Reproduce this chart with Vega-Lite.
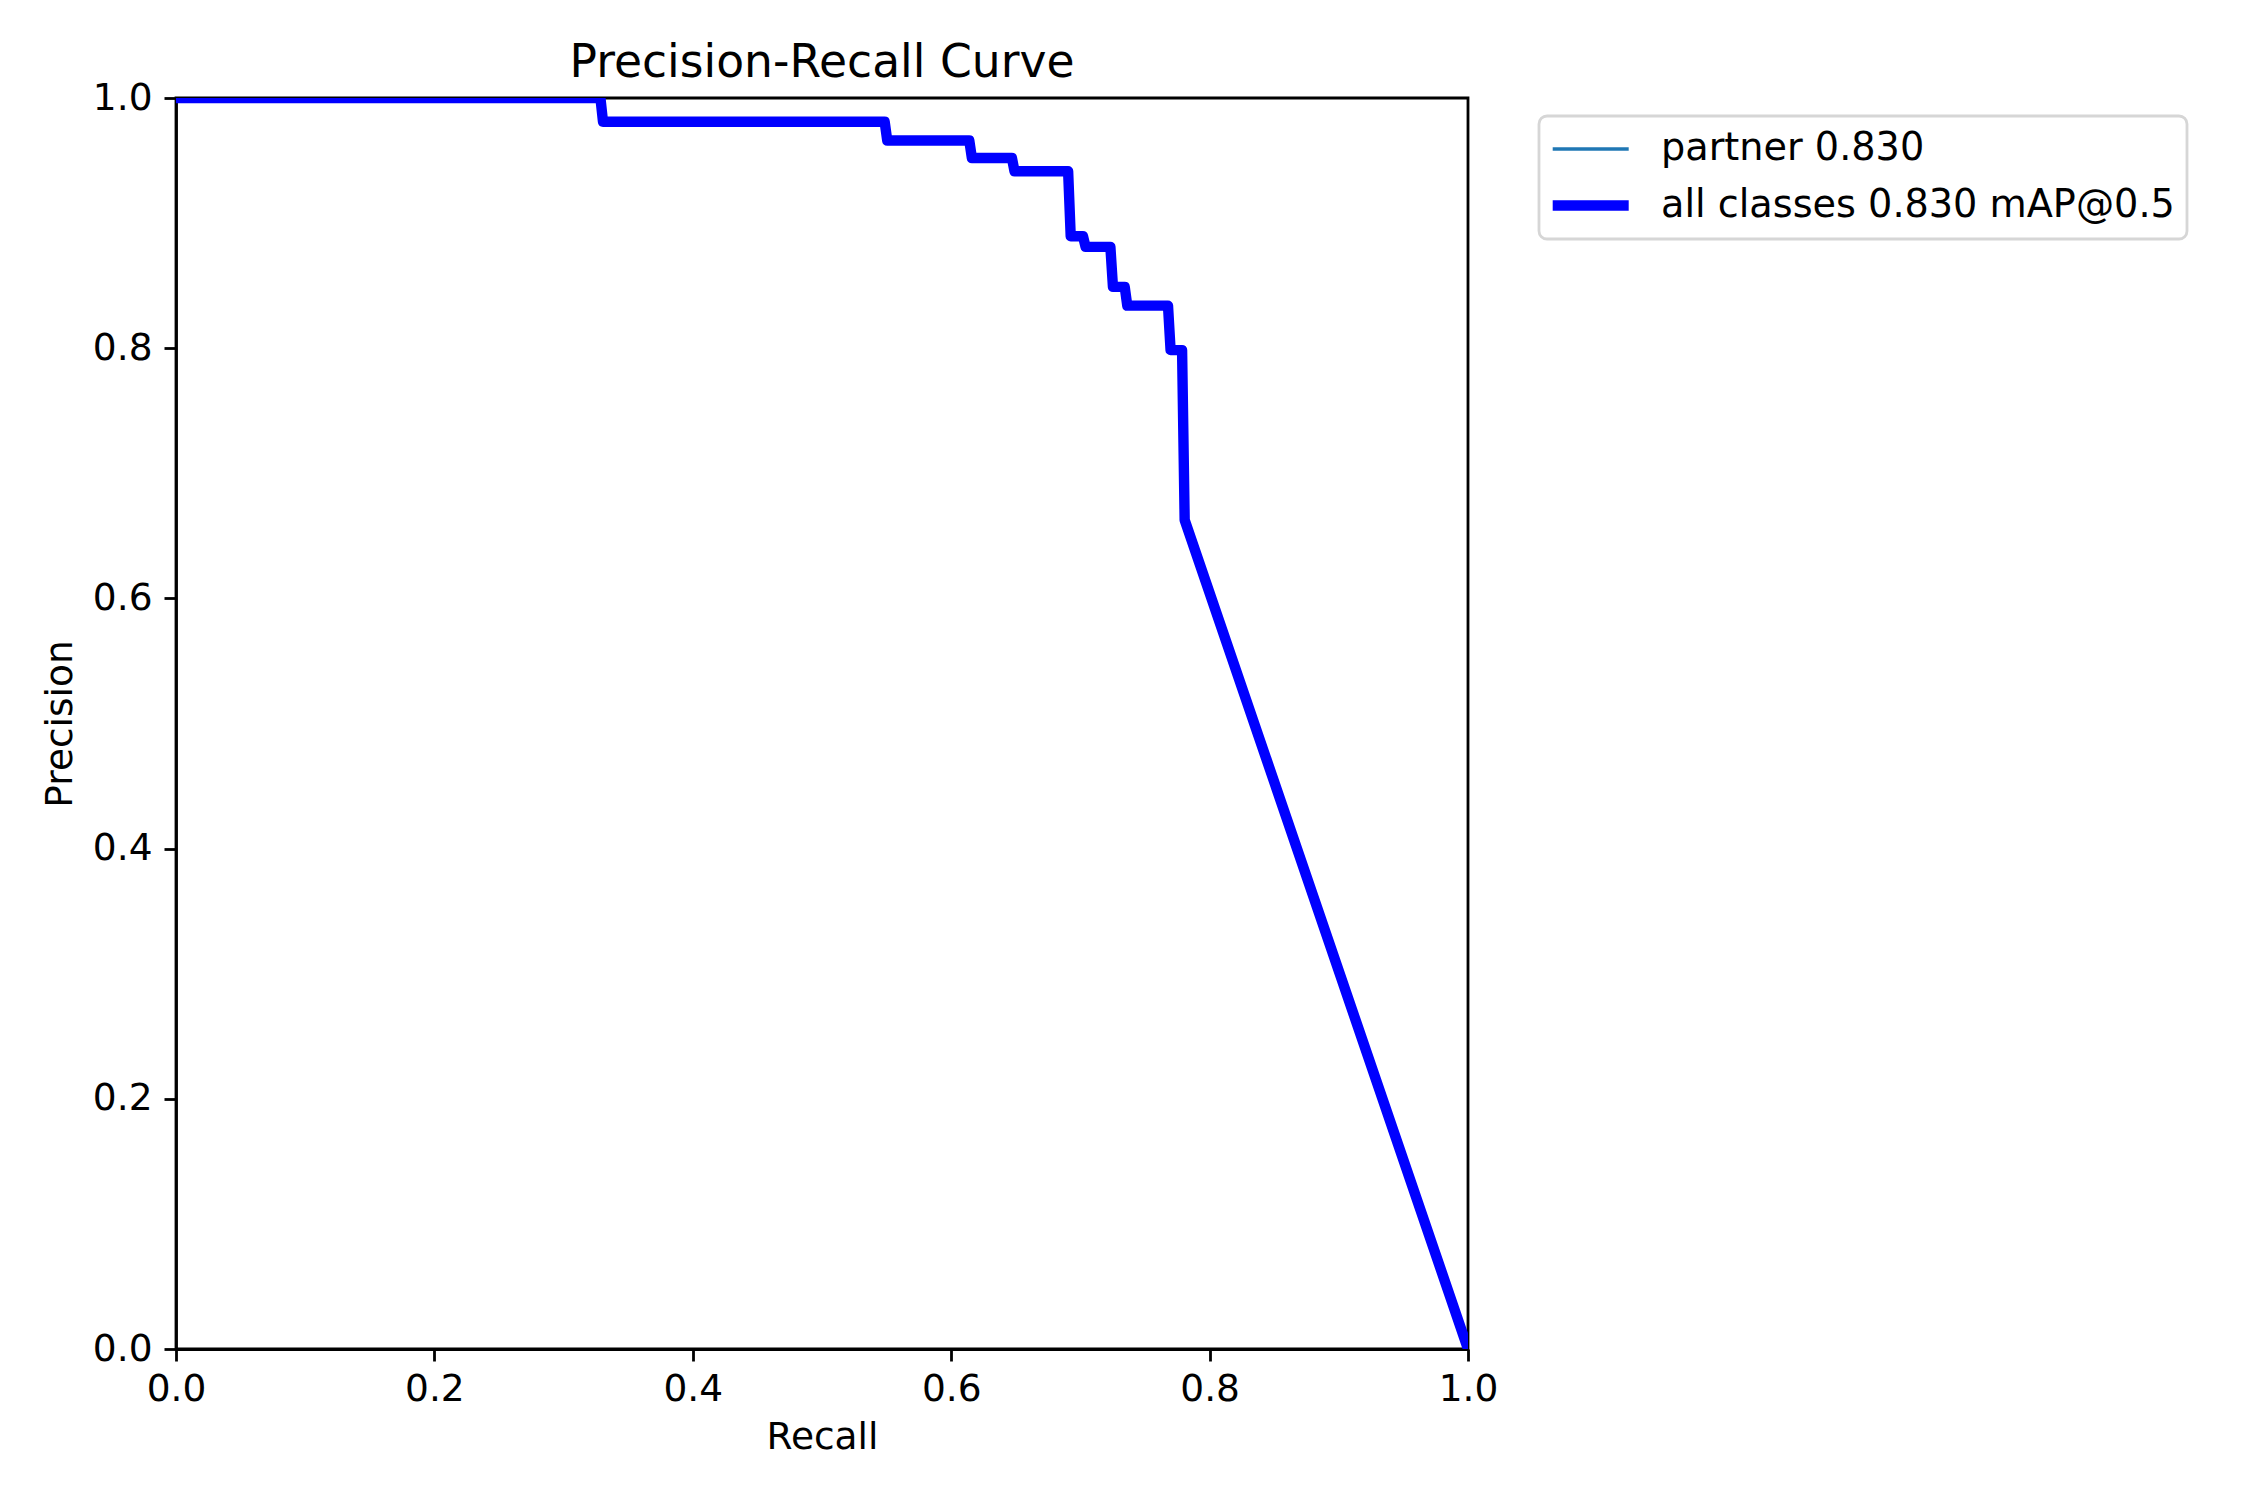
{
  "$schema": "https://vega.github.io/schema/vega-lite/v6.json",
  "width": 1292,
  "height": 1251,
  "autosize": {"type": "none"},
  "padding": {"left": 176, "top": 98, "right": 782, "bottom": 151},
  "background": "white",
  "title": {
    "text": "Precision-Recall Curve",
    "font": "DejaVu Sans",
    "fontSize": 45.6,
    "fontWeight": "normal",
    "color": "black",
    "anchor": "middle",
    "frame": "group",
    "baseline": "alphabetic",
    "offset": -44
  },
  "data": {
    "values": [
      {"recall": 0, "precision": 1, "series": "partner 0.830"},
      {"recall": 0.3285, "precision": 1, "series": "partner 0.830"},
      {"recall": 0.3305, "precision": 0.981, "series": "partner 0.830"},
      {"recall": 0.5485, "precision": 0.981, "series": "partner 0.830"},
      {"recall": 0.5505, "precision": 0.966, "series": "partner 0.830"},
      {"recall": 0.614, "precision": 0.966, "series": "partner 0.830"},
      {"recall": 0.616, "precision": 0.952, "series": "partner 0.830"},
      {"recall": 0.647, "precision": 0.952, "series": "partner 0.830"},
      {"recall": 0.649, "precision": 0.9415, "series": "partner 0.830"},
      {"recall": 0.6905, "precision": 0.9415, "series": "partner 0.830"},
      {"recall": 0.6925, "precision": 0.8895, "series": "partner 0.830"},
      {"recall": 0.702, "precision": 0.8895, "series": "partner 0.830"},
      {"recall": 0.704, "precision": 0.881, "series": "partner 0.830"},
      {"recall": 0.7232, "precision": 0.881, "series": "partner 0.830"},
      {"recall": 0.7252, "precision": 0.849, "series": "partner 0.830"},
      {"recall": 0.7343, "precision": 0.849, "series": "partner 0.830"},
      {"recall": 0.7363, "precision": 0.834, "series": "partner 0.830"},
      {"recall": 0.7678, "precision": 0.834, "series": "partner 0.830"},
      {"recall": 0.7698, "precision": 0.7985, "series": "partner 0.830"},
      {"recall": 0.7787, "precision": 0.7985, "series": "partner 0.830"},
      {"recall": 0.7807, "precision": 0.6627, "series": "partner 0.830"},
      {"recall": 1, "precision": 0, "series": "partner 0.830"},
      {"recall": 0, "precision": 1, "series": "all classes 0.830 mAP@0.5"},
      {"recall": 0.3285, "precision": 1, "series": "all classes 0.830 mAP@0.5"},
      {"recall": 0.3305, "precision": 0.981, "series": "all classes 0.830 mAP@0.5"},
      {"recall": 0.5485, "precision": 0.981, "series": "all classes 0.830 mAP@0.5"},
      {"recall": 0.5505, "precision": 0.966, "series": "all classes 0.830 mAP@0.5"},
      {"recall": 0.614, "precision": 0.966, "series": "all classes 0.830 mAP@0.5"},
      {"recall": 0.616, "precision": 0.952, "series": "all classes 0.830 mAP@0.5"},
      {"recall": 0.647, "precision": 0.952, "series": "all classes 0.830 mAP@0.5"},
      {"recall": 0.649, "precision": 0.9415, "series": "all classes 0.830 mAP@0.5"},
      {"recall": 0.6905, "precision": 0.9415, "series": "all classes 0.830 mAP@0.5"},
      {"recall": 0.6925, "precision": 0.8895, "series": "all classes 0.830 mAP@0.5"},
      {"recall": 0.702, "precision": 0.8895, "series": "all classes 0.830 mAP@0.5"},
      {"recall": 0.704, "precision": 0.881, "series": "all classes 0.830 mAP@0.5"},
      {"recall": 0.7232, "precision": 0.881, "series": "all classes 0.830 mAP@0.5"},
      {"recall": 0.7252, "precision": 0.849, "series": "all classes 0.830 mAP@0.5"},
      {"recall": 0.7343, "precision": 0.849, "series": "all classes 0.830 mAP@0.5"},
      {"recall": 0.7363, "precision": 0.834, "series": "all classes 0.830 mAP@0.5"},
      {"recall": 0.7678, "precision": 0.834, "series": "all classes 0.830 mAP@0.5"},
      {"recall": 0.7698, "precision": 0.7985, "series": "all classes 0.830 mAP@0.5"},
      {"recall": 0.7787, "precision": 0.7985, "series": "all classes 0.830 mAP@0.5"},
      {"recall": 0.7807, "precision": 0.6627, "series": "all classes 0.830 mAP@0.5"},
      {"recall": 1, "precision": 0, "series": "all classes 0.830 mAP@0.5"}
    ]
  },
  "encoding": {
    "x": {
      "field": "recall",
      "type": "quantitative",
      "title": "Recall",
      "scale": {"domain": [0, 1], "nice": false, "zero": false},
      "axis": {"values": [0, 0.2, 0.4, 0.6, 0.8, 1.0], "format": ".1f", "labelPadding": 9, "titlePadding": 11}
    },
    "y": {
      "field": "precision",
      "type": "quantitative",
      "title": "Precision",
      "scale": {"domain": [0, 1], "nice": false, "zero": false},
      "axis": {"values": [0, 0.2, 0.4, 0.6, 0.8, 1.0], "format": ".1f", "titlePadding": 13}
    },
    "color": {
      "field": "series",
      "type": "nominal",
      "scale": {"domain": ["partner 0.830", "all classes 0.830 mAP@0.5"], "range": ["#1f77b4", "#0000ff"]},
      "legend": {"title": null}
    },
    "strokeWidth": {
      "field": "series",
      "type": "nominal",
      "scale": {"domain": ["partner 0.830", "all classes 0.830 mAP@0.5"], "range": [3.5, 10.4]},
      "legend": {"title": null}
    }
  },
  "layer": [
    {
      "transform": [{"filter": "datum.series === 'partner 0.830'"}],
      "mark": {"type": "line", "clip": true, "strokeJoin": "round"}
    },
    {
      "transform": [{"filter": "datum.series === 'all classes 0.830 mAP@0.5'"}],
      "mark": {"type": "line", "clip": true, "strokeJoin": "round"}
    }
  ],
  "config": {
    "font": "DejaVu Sans",
    "view": {"stroke": "black", "strokeWidth": 2.8},
    "axis": {
      "grid": false,
      "domain": true,
      "domainColor": "black",
      "domainWidth": 2.8,
      "ticks": true,
      "tickColor": "black",
      "tickWidth": 2.8,
      "tickSize": 12,
      "labelFont": "DejaVu Sans",
      "labelFontSize": 37.5,
      "labelColor": "black",
      "labelPadding": 12,
      "labelFlush": false,
      "labelOverlap": false,
      "labelBound": false,
      "titleFont": "DejaVu Sans",
      "titleFontSize": 37.5,
      "titleFontWeight": "normal",
      "titleColor": "black"
    },
    "legend": {
      "orient": "none",
      "legendX": 1363,
      "legendY": 18,
      "fillColor": "white",
      "strokeColor": "#d6d6d6",
      "strokeWidth": 2.8,
      "cornerRadius": 8,
      "padding": 12,
      "symbolType": "M-1.2,0H2.8",
      "symbolSize": 1444,
      "labelFont": "DejaVu Sans",
      "labelFontSize": 38.2,
      "labelColor": "black",
      "labelOffset": 61,
      "rowPadding": 13,
      "labelLimit": 800
    }
  }
}
